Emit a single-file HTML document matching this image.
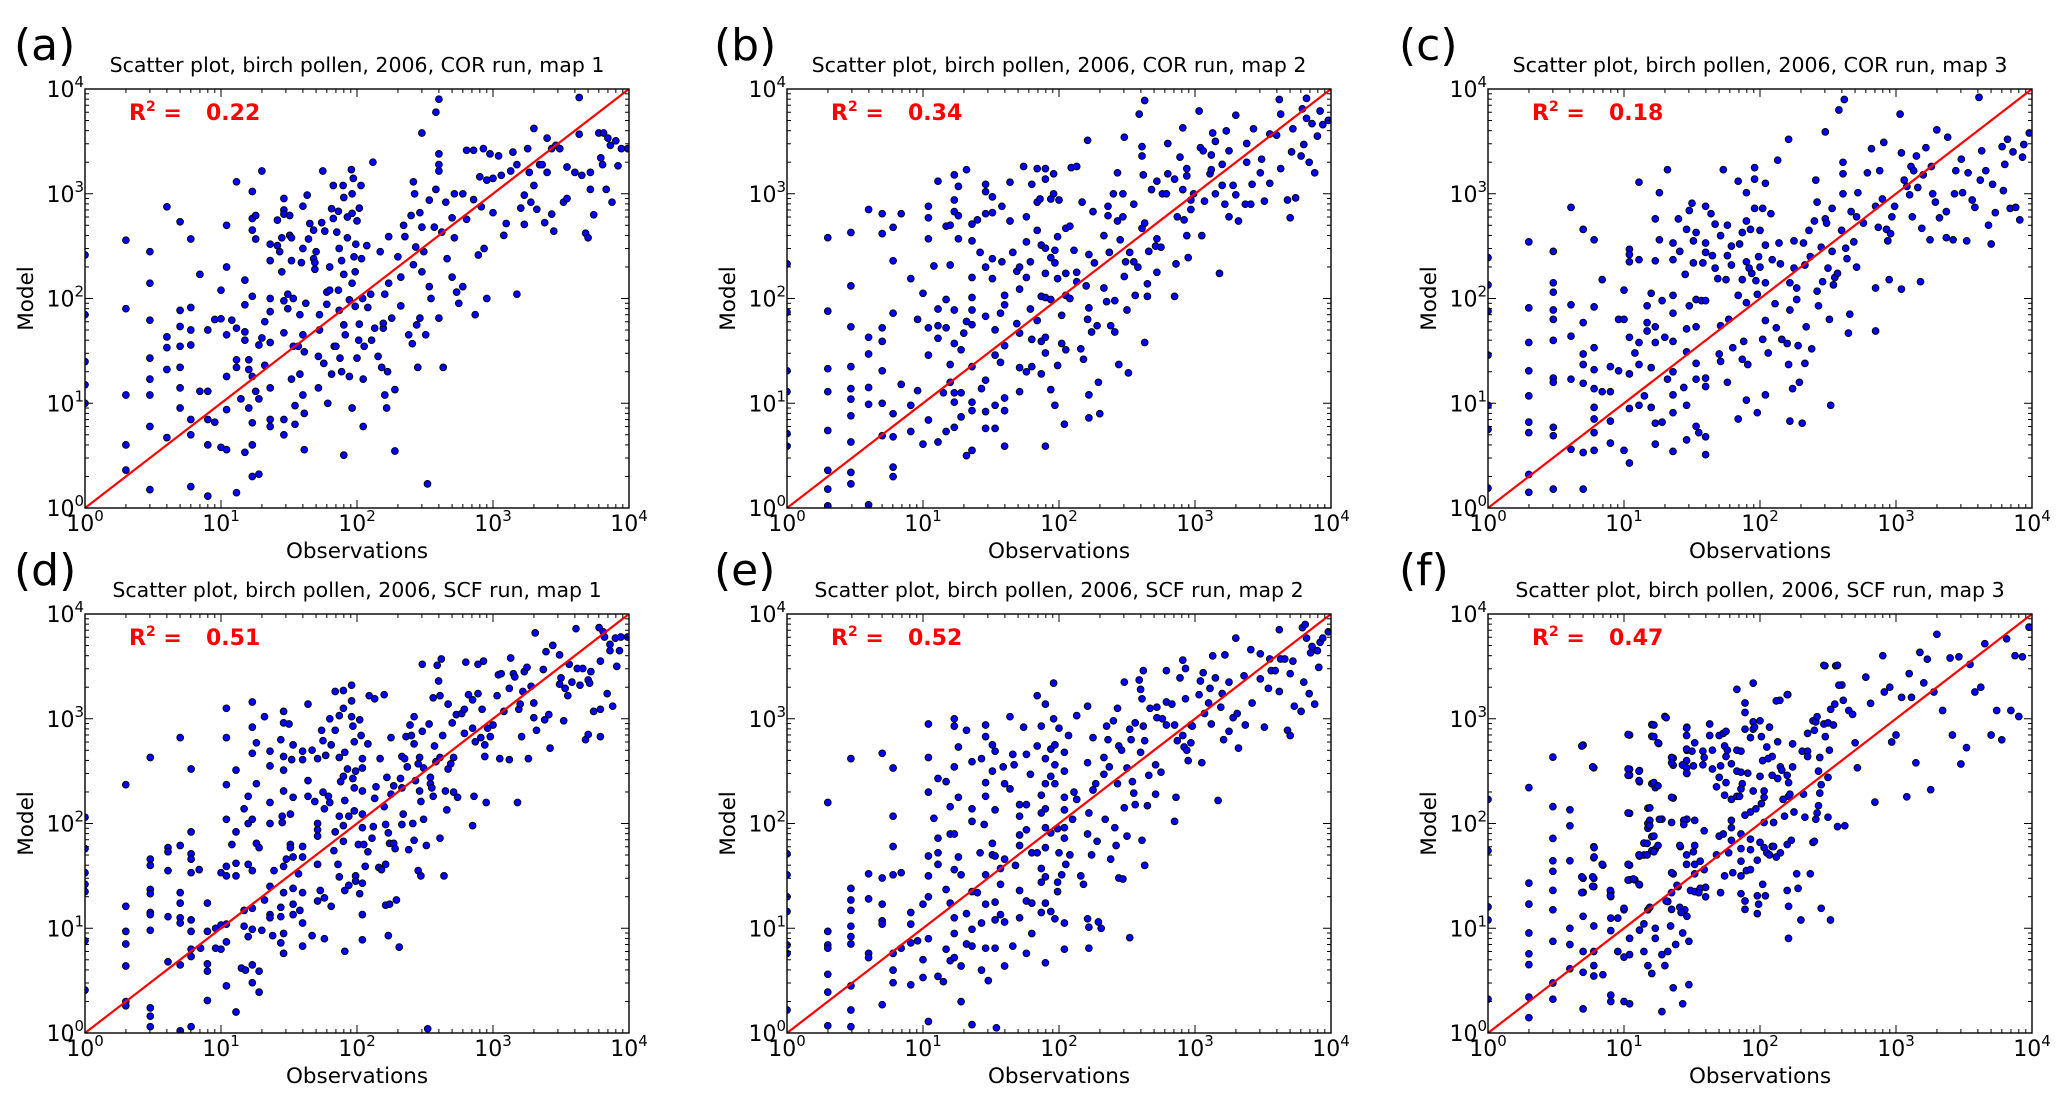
<!DOCTYPE html>
<html><head><meta charset="utf-8"><style>
html,body{margin:0;padding:0;background:#fff;}
svg{display:block;font-family:"DejaVu Sans","Liberation Sans",sans-serif;}
</style></head><body>
<svg id="fig" width="2067" height="1101" viewBox="0 0 2067 1101" xmlns="http://www.w3.org/2000/svg"></svg>
<script>
// Panel (a): [observation, model] in data units
const ptsA = [[2,360],[2,80],[2,12],[2,4],[2,2.3],[3,280],[3,140],[3,62],[3,27],[3,17],[3,12],[3,6],[3,1.5],[4,750],[4,43],[4,34],[4,21],[4,4.7],[5,540],[5,77],[5,54],[5,35],[5,22],[5,14],[5,9],[6,370],[6,82],[6,50],[6,36],[6,7],[6,5],[6,1.6],[7,170],[7,13],[8,50],[8,13],[8,7],[8,4],[8,1.3],[9,63],[9,6.6],[10,64],[10,120],[10,3.8],[11,500],[11,200],[11,45],[11,18],[11,8.7],[11,3.6],[12,62],[13,1300],[13,52],[13,26],[13,22],[13,1.4],[14,11],[15,150],[15,87],[15,40],[15,48],[15,3.4],[16,21],[16,9],[16,26],[17,1050],[17,580],[17,450],[17,105],[17,18],[17,6.5],[17,4],[17,2],[18,620],[18,370],[18,13],[19,36],[19,11],[19,2.1],[20,1650],[20,42],[21,60],[21,23],[23,330],[23,230],[23,100],[23,75],[23,38],[23,14],[23,7],[23,6],[26,560],[26,320],[27,280],[28,380],[28,180],[29,900],[29,700],[29,640],[29,95],[29,47],[29,7],[29,5],[31,110],[31,80],[32,620],[32,400],[33,380],[33,230],[33,17],[34,100],[34,35],[35,9.5],[35,6.3],[37,35],[38,19],[38,70],[39,220],[40,760],[40,300],[40,45],[40,12],[41,31],[41,8],[41,3.6],[42,90],[43,970],[44,370],[45,520],[48,450],[48,240],[49,220],[49,190],[50,280],[52,14],[52,28],[53,70],[53,50],[55,530],[56,1650],[57,24],[58,440],[60,88],[60,115],[61,10],[63,120],[63,200],[65,720],[65,19],[67,1200],[67,580],[68,35],[70,35],[71,430],[73,680],[73,120],[74,300],[74,77],[75,27],[77,230],[77,20],[79,1200],[80,920],[80,170],[80,56],[80,3.2],[82,45],[85,600],[85,380],[88,97],[88,18],[91,1700],[92,1000],[92,650],[92,140],[92,9],[94,1400],[95,250],[97,180],[97,84],[98,330],[100,550],[100,27],[103,40],[104,730],[104,57],[107,1200],[108,240],[110,100],[111,17],[111,6],[113,35],[118,320],[120,82],[126,110],[128,40],[131,2000],[135,52],[143,28],[148,280],[152,22],[156,52],[156,58],[160,110],[160,12],[165,9],[168,20],[171,390],[171,140],[180,65],[190,3.5],[190,13.5],[200,250],[210,85],[210,160],[220,500],[225,390],[240,45],[250,620],[255,37],[260,1300],[260,210],[265,1000],[270,310],[275,56],[280,22],[290,660],[290,65],[300,3800],[300,480],[300,180],[310,280],[320,45],[330,1.7],[340,870],[340,130],[350,100],[370,480],[380,6000],[380,1100],[400,8000],[400,2400],[400,1900],[400,1650],[400,65],[420,430],[430,22],[450,830],[460,240],[500,590],[500,160],[520,1000],[520,380],[540,115],[560,90],[600,1000],[600,130],[640,2600],[640,570],[720,2600],[720,880],[740,70],[780,260],[800,1450],[820,750],[850,2700],[860,300],[900,1350],[900,100],[950,2400],[1000,1400],[1000,660],[1100,2300],[1150,1500],[1200,400],[1250,520],[1350,1650],[1400,2500],[1500,1900],[1500,110],[1600,730],[1700,970],[1700,510],[1800,2700],[1850,1600],[1900,830],[2000,1200],[2000,4200],[2100,710],[2200,1900],[2300,1900],[2400,530],[2500,1600],[2500,3400],[2700,640],[2700,2700],[2800,440],[2900,2900],[3100,2700],[3300,830],[3500,1800],[3500,900],[4000,1600],[4300,8300],[4300,3700],[4500,1500],[4800,420],[5000,380],[5200,1600],[5200,1100],[5500,630],[6000,3800],[6200,2200],[6400,1900],[6500,3800],[6800,1100],[7000,3400],[7300,2900],[7500,830],[8000,3200],[8300,1850],[8800,2700],[9800,2700],[1,260],[1,70],[1,25],[1,15],[1,10]];
// Panel (b): [log10 obs, log10 model]
const ptsB = [[.3,2.58],[.3,1.88],[.3,1.33],[.3,1.11],[.3,.74],[.3,.36],[.3,.18],[.3,.02],[.47,2.63],[.47,2.12],[.47,1.73],[.47,1.35],[.47,1.14],[.47,1.04],[.47,.88],[.47,.63],[.47,.34],[.47,.23],[.6,2.85],[.6,1.63],[.6,1.47],[.6,1.15],[.6,.99],[.6,.03],[.7,2.81],[.7,2.62],[.7,1.72],[.7,1.59],[.7,1.31],[.7,1.0],[.7,.69],[.78,2.68],[.78,2.36],[.78,1.86],[.78,.9],[.78,.68],[.78,.39],[.78,.3],[.84,2.81],[.84,1.18],[.91,2.19],[.91,.98],[.91,.73],[.96,1.8],[.96,1.12],[1.0,2.05],[1.0,.61],[1.04,2.88],[1.04,2.77],[1.04,2.57],[1.04,1.72],[1.04,1.46],[1.04,.84],[1.08,2.31],[1.11,3.12],[1.11,1.9],[1.11,1.74],[1.11,1.62],[1.11,.63],[1.15,1.1],[1.17,2.69],[1.17,1.99],[1.17,1.72],[1.17,.73],[1.2,2.7],[1.2,2.32],[1.2,1.37],[1.2,1.2],[1.23,3.18],[1.23,2.94],[1.23,2.83],[1.23,1.89],[1.23,1.57],[1.23,1.1],[1.23,1.01],[1.23,.77],[1.26,3.07],[1.26,2.79],[1.26,2.57],[1.28,1.51],[1.28,1.1],[1.28,.87],[1.3,1.67],[1.32,1.78],[1.32,.5],[1.32,3.23],[1.36,2.71],[1.36,2.55],[1.36,2.2],[1.36,2.01],[1.36,1.89],[1.36,1.75],[1.36,1.35],[1.36,1.01],[1.36,.93],[1.36,.55],[1.4,2.75],[1.42,2.44],[1.43,1.14],[1.46,3.09],[1.46,3.02],[1.46,2.81],[1.46,2.3],[1.46,1.83],[1.46,1.22],[1.46,.92],[1.46,.76],[1.51,2.97],[1.51,2.82],[1.51,2.38],[1.51,2.19],[1.53,1.7],[1.53,1.46],[1.53,.98],[1.53,.76],[1.58,2.88],[1.58,2.35],[1.57,1.86],[1.57,1.39],[1.6,2.03],[1.6,1.94],[1.6,1.55],[1.6,1.05],[1.6,.93],[1.6,.59],[1.64,3.11],[1.64,2.74],[1.66,2.44],[1.69,2.26],[1.69,1.76],[1.71,2.3],[1.71,2.09],[1.71,1.67],[1.71,1.34],[1.71,1.11],[1.74,3.26],[1.76,2.78],[1.76,2.54],[1.76,2.2],[1.76,1.3],[1.79,2.35],[1.79,1.9],[1.8,3.09],[1.8,1.61],[1.8,1.35],[1.84,3.24],[1.84,2.92],[1.84,2.65],[1.84,1.79],[1.86,2.95],[1.87,2.51],[1.87,2.02],[1.87,1.59],[1.87,1.28],[1.9,3.24],[1.9,3.14],[1.9,2.48],[1.9,2.24],[1.9,2.01],[1.9,1.63],[1.9,1.48],[1.9,.59],[1.94,2.95],[1.94,2.39],[1.94,1.99],[1.94,1.13],[1.96,3.19],[1.96,3.0],[1.97,2.46],[1.97,2.34],[1.97,.98],[1.99,2.59],[1.99,2.19],[1.99,1.36],[2.0,2.94],[2.02,1.84],[2.02,1.57],[2.05,2.67],[2.05,2.24],[2.05,2.03],[2.04,.8],[2.05,1.51],[2.08,2.0],[2.08,2.69],[2.09,3.25],[2.13,3.26],[2.11,2.46],[2.13,2.25],[2.13,2.16],[2.16,1.52],[2.17,2.92],[2.18,1.42],[2.21,3.51],[2.2,2.12],[2.21,1.8],[2.22,2.42],[2.22,1.91],[2.22,1.08],[2.22,.86],[2.24,1.68],[2.25,2.83],[2.26,2.34],[2.28,1.74],[2.29,1.2],[2.3,.9],[2.33,2.6],[2.33,2.1],[2.35,1.97],[2.36,2.88],[2.36,2.79],[2.37,2.44],[2.38,1.74],[2.4,3.0],[2.41,1.68],[2.41,1.98],[2.43,3.2],[2.43,2.74],[2.44,1.37],[2.45,2.56],[2.47,3.0],[2.47,2.78],[2.48,3.54],[2.48,2.21],[2.49,2.35],[2.5,1.89],[2.51,1.29],[2.52,2.44],[2.55,2.9],[2.55,2.35],[2.56,2.03],[2.58,2.3],[2.59,3.76],[2.61,2.67],[2.61,3.45],[2.61,3.36],[2.62,3.18],[2.63,3.89],[2.63,2.72],[2.63,1.58],[2.65,2.14],[2.65,2.02],[2.66,2.45],[2.68,3.04],[2.71,2.5],[2.72,3.12],[2.72,2.57],[2.72,2.25],[2.75,2.49],[2.76,3.0],[2.79,3.0],[2.8,3.48],[2.8,3.19],[2.85,3.14],[2.85,2.02],[2.86,2.33],[2.87,2.78],[2.89,3.35],[2.91,3.63],[2.91,3.04],[2.92,2.75],[2.94,3.24],[2.94,3.17],[2.94,2.6],[2.95,2.39],[2.97,2.85],[2.97,2.94],[2.99,3.0],[3.03,3.79],[3.04,3.44],[3.05,2.6],[3.06,3.41],[3.07,2.93],[3.11,3.19],[3.12,3.37],[3.12,3.23],[3.13,3.58],[3.15,3.5],[3.15,3.0],[3.18,2.24],[3.2,3.08],[3.2,3.28],[3.22,2.9],[3.23,3.6],[3.25,2.78],[3.25,3.41],[3.28,3.08],[3.3,3.75],[3.3,2.99],[3.32,2.74],[3.37,2.9],[3.38,3.48],[3.38,3.3],[3.41,2.9],[3.42,3.09],[3.43,3.62],[3.48,3.2],[3.49,3.33],[3.51,2.93],[3.55,3.1],[3.55,3.57],[3.6,3.56],[3.62,3.9],[3.63,3.24],[3.63,3.76],[3.68,2.94],[3.7,2.77],[3.71,3.4],[3.72,3.62],[3.74,2.96],[3.78,3.36],[3.79,3.81],[3.8,3.47],[3.82,3.91],[3.82,3.72],[3.84,3.3],[3.86,3.67],[3.88,3.2],[3.9,3.55],[3.92,3.79],[3.94,3.66],[3.98,3.7],[0,2.33],[0,1.87],[0,1.31],[0,1.11],[0,.71],[0,.59]];
// Panel (c): [log10 obs, log10 model]
const ptsC = [[.3,2.54],[.3,1.91],[.3,1.58],[.3,1.31],[.3,1.07],[.3,.82],[.3,.72],[.3,.32],[.3,.15],[.48,2.45],[.48,2.15],[.48,2.06],[.48,1.89],[.48,1.8],[.48,1.6],[.48,1.24],[.48,1.2],[.48,.77],[.48,.69],[.48,.18],[.61,2.87],[.61,1.94],[.61,1.64],[.61,1.23],[.61,.56],[.7,2.66],[.7,1.77],[.7,1.47],[.7,1.37],[.7,1.19],[.7,.53],[.7,.18],[.78,2.56],[.78,1.92],[.78,1.53],[.78,1.32],[.78,1.14],[.78,.96],[.78,.85],[.78,.72],[.78,.55],[.84,2.18],[.84,1.11],[.9,1.35],[.9,1.11],[.9,.83],[.9,.62],[.96,1.31],[.96,1.8],[1.0,2.08],[1.0,1.8],[1.0,.55],[1.04,2.47],[1.04,2.42],[1.04,2.35],[1.04,1.63],[1.04,1.28],[1.04,.95],[1.04,.43],[1.08,1.48],[1.11,3.11],[1.11,2.37],[1.11,1.58],[1.11,1.37],[1.11,.98],[1.15,1.07],[1.17,1.93],[1.17,1.77],[1.17,1.69],[1.2,2.05],[1.2,1.34],[1.2,.96],[1.23,2.76],[1.23,2.36],[1.23,1.73],[1.23,1.58],[1.23,.81],[1.23,.61],[1.26,3.01],[1.26,2.56],[1.28,1.98],[1.28,.82],[1.3,1.63],[1.32,3.23],[1.32,1.23],[1.36,2.53],[1.36,2.37],[1.36,2.03],[1.36,1.86],[1.36,1.59],[1.36,1.3],[1.36,1.08],[1.36,.91],[1.36,.54],[1.4,2.76],[1.41,2.45],[1.44,1.15],[1.45,2.23],[1.46,2.66],[1.46,1.71],[1.46,1.49],[1.46,.98],[1.46,.65],[1.48,2.84],[1.48,1.93],[1.5,2.91],[1.51,2.55],[1.51,2.34],[1.53,2.63],[1.53,1.99],[1.53,1.73],[1.53,1.38],[1.53,1.23],[1.53,.78],[1.55,.72],[1.57,1.98],[1.58,2.34],[1.6,2.88],[1.6,2.53],[1.6,2.44],[1.6,1.98],[1.6,1.24],[1.6,1.16],[1.6,.68],[1.6,.51],[1.64,2.81],[1.65,2.41],[1.67,2.71],[1.67,2.29],[1.69,2.19],[1.7,1.47],[1.71,2.6],[1.71,1.74],[1.71,1.4],[1.73,3.23],[1.75,2.18],[1.76,2.7],[1.76,2.41],[1.76,1.2],[1.77,1.8],[1.79,2.5],[1.79,2.32],[1.8,1.53],[1.84,3.12],[1.84,2.03],[1.84,.85],[1.85,2.52],[1.87,2.63],[1.87,2.18],[1.87,1.42],[1.88,1.59],[1.9,3.01],[1.9,2.74],[1.9,2.35],[1.9,1.96],[1.9,1.03],[1.91,1.37],[1.92,2.29],[1.93,2.66],[1.94,2.24],[1.96,3.14],[1.96,3.25],[1.96,2.86],[1.97,2.17],[1.98,2.04],[1.98,.91],[1.99,2.4],[2.0,2.65],[2.0,2.3],[2.02,2.86],[2.02,1.61],[2.04,3.1],[2.04,2.51],[2.04,2.15],[2.04,1.79],[2.04,1.08],[2.06,1.48],[2.08,2.81],[2.09,2.37],[2.11,1.95],[2.12,1.72],[2.13,3.32],[2.14,2.53],[2.15,2.33],[2.16,1.61],[2.2,1.57],[2.21,3.52],[2.21,1.37],[2.22,2.15],[2.22,1.89],[2.22,.83],[2.24,1.14],[2.25,2.55],[2.25,2.29],[2.27,2.1],[2.27,1.99],[2.28,1.55],[2.29,1.2],[2.31,.81],[2.32,2.53],[2.33,2.32],[2.33,1.38],[2.34,1.73],[2.36,2.65],[2.37,2.4],[2.38,1.52],[2.4,2.74],[2.41,3.13],[2.42,2.92],[2.42,2.07],[2.43,1.93],[2.45,2.49],[2.46,2.16],[2.48,2.76],[2.48,3.59],[2.49,2.72],[2.5,2.29],[2.51,1.8],[2.52,.98],[2.53,2.86],[2.53,2.45],[2.54,2.13],[2.55,2.2],[2.57,2.24],[2.58,3.8],[2.6,2.65],[2.61,3.19],[2.61,3.3],[2.61,3.0],[2.62,3.9],[2.63,2.48],[2.64,2.38],[2.65,1.67],[2.66,1.85],[2.67,2.83],[2.69,2.54],[2.71,2.3],[2.71,2.78],[2.72,3.01],[2.76,2.72],[2.79,3.2],[2.82,3.43],[2.85,2.88],[2.85,2.1],[2.85,1.69],[2.87,2.68],[2.88,3.22],[2.9,2.95],[2.91,3.49],[2.93,2.66],[2.94,2.55],[2.95,2.18],[2.96,2.62],[2.97,2.78],[2.99,2.88],[3.03,3.76],[3.04,3.39],[3.04,2.09],[3.06,3.13],[3.08,3.07],[3.1,2.99],[3.11,3.26],[3.12,2.78],[3.13,3.22],[3.15,3.36],[3.16,3.06],[3.18,2.16],[3.19,2.67],[3.2,3.18],[3.22,3.44],[3.25,2.56],[3.26,3.26],[3.27,3.0],[3.29,2.92],[3.3,3.61],[3.32,2.77],[3.37,2.58],[3.37,2.83],[3.38,3.54],[3.42,2.56],[3.43,3.0],[3.44,3.22],[3.48,3.33],[3.49,3.01],[3.52,2.55],[3.53,3.2],[3.56,2.94],[3.58,2.87],[3.61,3.92],[3.62,3.13],[3.63,3.41],[3.66,3.22],[3.68,2.7],[3.7,2.52],[3.71,3.09],[3.73,2.82],[3.78,3.45],[3.79,3.03],[3.8,3.28],[3.82,3.52],[3.84,2.86],[3.86,3.4],[3.88,2.87],[3.91,2.75],[3.93,3.35],[3.94,3.47],[3.98,3.58],[0,2.39],[0,2.13],[0,1.88],[0,1.46],[0,.98],[0,.75],[0,.19]];
// Panel (d): [log10 obs, log10 model]
const ptsD = [[.3,2.37],[.3,1.21],[.3,.97],[.3,.85],[.3,.64],[.3,.3],[.3,.26],[.48,2.63],[.48,1.66],[.48,1.6],[.48,1.37],[.48,1.33],[.48,1.15],[.48,1.13],[.48,.98],[.48,.24],[.48,.16],[.48,.06],[.61,1.77],[.61,1.73],[.61,1.55],[.61,1.11],[.61,.68],[.7,2.82],[.7,1.79],[.7,1.34],[.7,1.24],[.7,1.1],[.7,1.05],[.7,.65],[.7,.02],[.78,2.52],[.78,1.92],[.78,1.71],[.78,1.66],[.78,1.53],[.78,1.08],[.78,.97],[.78,.8],[.78,.73],[.78,.06],[.84,1.56],[.85,.81],[.9,1.24],[.9,.97],[.9,.66],[.9,.59],[.9,.31],[.96,1.0],[.96,.81],[1.0,1.53],[1.0,1.03],[1.0,.8],[1.04,3.1],[1.04,2.82],[1.04,2.37],[1.04,2.04],[1.04,1.59],[1.04,1.5],[1.04,1.04],[1.04,.87],[1.04,.45],[1.08,1.8],[1.11,2.51],[1.11,1.92],[1.11,1.62],[1.11,1.5],[1.11,.2],[1.15,.62],[1.17,2.14],[1.17,1.02],[1.17,1.17],[1.18,.6],[1.2,2.26],[1.2,2.0],[1.2,1.61],[1.2,.92],[1.23,3.16],[1.23,2.92],[1.23,2.67],[1.23,2.04],[1.23,1.55],[1.23,1.19],[1.23,.99],[1.23,.65],[1.23,.48],[1.26,2.77],[1.26,2.38],[1.26,1.81],[1.28,1.77],[1.28,.59],[1.28,.39],[1.3,.98],[1.32,3.02],[1.32,1.27],[1.36,2.69],[1.36,2.55],[1.36,2.2],[1.36,2.0],[1.36,1.4],[1.36,1.13],[1.36,1.1],[1.38,.93],[1.39,1.55],[1.44,2.8],[1.44,1.2],[1.44,1.11],[1.44,.86],[1.45,2.07],[1.45,2.01],[1.46,3.07],[1.46,2.96],[1.46,2.64],[1.46,2.51],[1.46,2.31],[1.46,1.59],[1.46,1.34],[1.46,.95],[1.46,.76],[1.48,1.66],[1.5,2.95],[1.51,2.09],[1.51,1.8],[1.51,1.77],[1.52,2.61],[1.53,2.75],[1.53,2.25],[1.53,1.68],[1.53,1.38],[1.53,1.23],[1.53,1.13],[1.57,1.52],[1.58,1.17],[1.6,2.69],[1.6,2.61],[1.6,1.78],[1.6,1.68],[1.6,1.34],[1.6,1.05],[1.6,.83],[1.64,3.14],[1.64,2.41],[1.64,2.26],[1.67,2.7],[1.67,.93],[1.69,2.21],[1.71,2.62],[1.71,2.0],[1.71,1.94],[1.71,1.88],[1.71,1.61],[1.71,1.26],[1.73,1.36],[1.74,2.89],[1.75,2.79],[1.75,2.3],[1.76,2.14],[1.76,1.29],[1.76,.9],[1.77,2.65],[1.79,2.26],[1.8,2.2],[1.8,3.0],[1.81,2.75],[1.81,1.21],[1.83,1.74],[1.84,3.26],[1.84,2.89],[1.84,1.92],[1.86,1.61],[1.87,2.63],[1.87,3.03],[1.87,2.07],[1.87,1.49],[1.88,2.4],[1.9,3.27],[1.9,3.1],[1.9,2.45],[1.9,1.98],[1.9,1.83],[1.91,.78],[1.91,2.68],[1.91,2.22],[1.91,1.36],[1.93,2.52],[1.94,2.07],[1.94,1.41],[1.96,3.32],[1.96,3.17],[1.96,3.02],[1.97,2.93],[1.97,2.43],[1.98,2.34],[1.98,2.78],[1.98,2.12],[1.99,2.5],[1.99,1.5],[1.99,1.45],[2.01,1.8],[2.02,2.99],[2.02,1.33],[2.03,2.84],[2.04,2.62],[2.04,2.53],[2.04,2.31],[2.04,2.09],[2.04,1.96],[2.04,1.43],[2.04,1.13],[2.04,.89],[2.05,1.8],[2.06,1.59],[2.08,1.73],[2.08,2.76],[2.09,3.22],[2.11,1.86],[2.12,1.97],[2.13,3.19],[2.13,2.24],[2.14,2.35],[2.16,1.58],[2.17,2.62],[2.18,1.56],[2.2,3.23],[2.2,2.16],[2.21,1.61],[2.21,1.22],[2.21,1.99],[2.22,2.44],[2.23,1.91],[2.23,.93],[2.24,1.23],[2.24,1.81],[2.25,2.82],[2.25,2.28],[2.27,2.36],[2.27,1.81],[2.28,1.76],[2.29,1.27],[2.31,.82],[2.32,2.43],[2.33,2.34],[2.33,2.64],[2.34,2.09],[2.33,1.99],[2.35,2.62],[2.36,2.83],[2.37,2.54],[2.38,1.75],[2.39,2.94],[2.4,2.84],[2.41,2.0],[2.42,1.84],[2.42,3.02],[2.42,2.76],[2.43,2.41],[2.45,2.57],[2.45,1.55],[2.46,2.63],[2.46,2.31],[2.47,2.21],[2.47,1.5],[2.48,2.88],[2.48,3.52],[2.49,2.04],[2.49,2.53],[2.51,1.79],[2.52,.04],[2.53,2.95],[2.54,2.38],[2.54,2.44],[2.55,2.34],[2.56,3.2],[2.56,2.26],[2.57,2.74],[2.58,2.59],[2.59,3.51],[2.6,3.36],[2.61,3.22],[2.61,2.63],[2.61,1.86],[2.62,3.57],[2.63,2.84],[2.64,1.5],[2.65,2.31],[2.66,2.13],[2.67,3.14],[2.67,2.52],[2.69,2.57],[2.7,2.96],[2.71,2.3],[2.71,2.63],[2.73,3.04],[2.74,2.25],[2.77,3.05],[2.79,2.86],[2.79,3.09],[2.8,3.54],[2.82,3.23],[2.85,3.18],[2.85,2.91],[2.85,1.98],[2.86,2.26],[2.87,2.78],[2.89,3.24],[2.89,3.52],[2.91,2.82],[2.92,3.09],[2.93,3.55],[2.94,2.75],[2.94,2.64],[2.95,2.2],[2.96,2.91],[2.98,2.83],[3.0,2.94],[3.03,3.22],[3.04,3.42],[3.05,2.62],[3.06,3.43],[3.08,3.07],[3.12,3.29],[3.12,2.61],[3.13,3.58],[3.15,3.43],[3.16,3.4],[3.18,2.2],[3.19,3.09],[3.2,3.14],[3.21,2.83],[3.22,3.26],[3.23,3.45],[3.25,3.49],[3.26,2.62],[3.28,3.31],[3.3,3.01],[3.3,3.15],[3.31,3.82],[3.32,2.89],[3.37,3.47],[3.38,2.99],[3.39,3.64],[3.41,3.04],[3.42,2.72],[3.44,3.7],[3.49,3.61],[3.49,3.33],[3.5,3.39],[3.52,2.98],[3.53,3.29],[3.55,3.22],[3.56,3.52],[3.58,3.35],[3.61,3.86],[3.62,3.48],[3.64,3.32],[3.66,3.48],[3.68,2.8],[3.7,2.85],[3.7,3.37],[3.71,3.34],[3.72,3.45],[3.74,3.07],[3.78,3.87],[3.79,2.83],[3.79,3.09],[3.79,3.55],[3.81,3.83],[3.82,3.78],[3.84,3.24],[3.86,3.71],[3.86,3.65],[3.88,3.12],[3.9,3.77],[3.91,3.5],[3.93,3.65],[3.94,3.78],[3.99,3.78],[0,2.06],[0,1.76],[0,1.53],[0,1.42],[0,1.35],[0,.88],[0,.41]];
// Panel (e): [log10 obs, log10 model]
const ptsE = [[.3,2.2],[.3,.97],[.3,.84],[.3,.81],[.3,.56],[.3,.39],[.3,.07],[.47,2.62],[.47,1.38],[.47,1.27],[.47,1.17],[.47,1.02],[.47,.92],[.47,.85],[.47,.45],[.47,.22],[.47,.06],[.6,1.52],[.6,1.28],[.6,.76],[.6,.72],[.7,2.67],[.7,1.48],[.7,1.23],[.7,1.07],[.7,1.04],[.7,.27],[.78,2.53],[.78,2.07],[.78,1.78],[.78,1.51],[.78,.76],[.78,.6],[.78,.48],[.84,1.53],[.84,.81],[.91,1.15],[.91,1.04],[.91,.86],[.91,.46],[.96,.88],[1.0,1.23],[1.0,.7],[1.0,.53],[1.04,2.95],[1.04,2.63],[1.04,2.3],[1.04,1.69],[1.04,1.5],[1.04,1.3],[1.04,.9],[1.04,.11],[1.08,2.05],[1.11,2.43],[1.11,1.86],[1.11,1.72],[1.11,1.61],[1.11,.54],[1.15,.49],[1.17,2.4],[1.17,1.37],[1.17,.8],[1.2,2.16],[1.2,1.9],[1.2,1.24],[1.2,.69],[1.23,3.0],[1.23,2.93],[1.23,2.54],[1.23,1.9],[1.23,1.56],[1.23,1.1],[1.23,.95],[1.23,.72],[1.26,2.73],[1.26,2.25],[1.26,1.68],[1.28,1.51],[1.28,.64],[1.28,.3],[1.32,2.89],[1.32,1.14],[1.32,.85],[1.36,2.59],[1.36,2.14],[1.36,2.02],[1.36,1.35],[1.36,.99],[1.36,.83],[1.36,.08],[1.4,1.34],[1.42,1.72],[1.43,2.62],[1.43,1.05],[1.43,.6],[1.45,1.99],[1.46,2.94],[1.46,2.83],[1.46,2.39],[1.46,2.26],[1.46,1.51],[1.46,1.23],[1.46,.81],[1.48,.5],[1.51,2.75],[1.51,2.5],[1.51,1.81],[1.51,1.7],[1.53,2.69],[1.53,2.13],[1.53,1.69],[1.53,1.25],[1.53,1.08],[1.53,.81],[1.54,.05],[1.57,1.57],[1.57,1.42],[1.57,1.13],[1.59,2.54],[1.6,2.38],[1.6,1.66],[1.6,1.06],[1.6,.64],[1.64,3.02],[1.64,2.33],[1.66,2.66],[1.66,.83],[1.67,2.56],[1.68,1.6],[1.71,2.18],[1.71,2.07],[1.71,1.89],[1.71,1.79],[1.71,1.36],[1.71,1.1],[1.74,2.92],[1.76,2.66],[1.76,2.18],[1.76,1.94],[1.76,1.26],[1.76,.76],[1.79,2.47],[1.8,1.72],[1.8,1.24],[1.8,.95],[1.84,3.22],[1.84,2.74],[1.84,1.72],[1.87,2.93],[1.87,2.27],[1.87,2.1],[1.87,1.57],[1.87,1.44],[1.87,1.15],[1.9,3.14],[1.9,2.62],[1.9,2.38],[1.9,2.14],[1.9,1.96],[1.9,1.77],[1.9,1.49],[1.9,1.24],[1.9,.67],[1.94,2.71],[1.94,2.45],[1.94,1.91],[1.94,1.16],[1.96,3.34],[1.96,3.0],[1.97,2.75],[1.97,2.56],[1.97,2.38],[1.97,1.09],[1.99,1.95],[1.99,1.44],[1.99,1.35],[2.0,2.91],[2.0,1.72],[2.02,1.51],[2.04,2.68],[2.04,2.5],[2.04,2.25],[2.04,2.13],[2.04,1.96],[2.04,1.86],[2.04,1.05],[2.04,.8],[2.05,1.61],[2.07,2.84],[2.08,1.7],[2.11,2.3],[2.1,2.04],[2.13,3.03],[2.13,2.23],[2.16,1.5],[2.18,1.42],[2.21,3.12],[2.21,1.09],[2.21,1.9],[2.21,2.58],[2.22,2.1],[2.22,1.01],[2.22,.81],[2.24,1.7],[2.25,2.82],[2.25,2.32],[2.27,2.38],[2.28,1.83],[2.29,1.06],[2.31,1.0],[2.33,2.47],[2.33,2.63],[2.34,2.04],[2.35,2.93],[2.36,2.8],[2.37,2.54],[2.38,1.66],[2.4,2.98],[2.41,1.96],[2.42,1.79],[2.43,2.38],[2.43,3.1],[2.44,2.74],[2.44,1.48],[2.46,2.7],[2.47,1.47],[2.48,2.15],[2.48,3.35],[2.5,2.53],[2.5,1.88],[2.52,.91],[2.52,2.9],[2.53,2.8],[2.54,2.4],[2.55,2.29],[2.56,2.96],[2.56,2.18],[2.59,3.37],[2.6,3.28],[2.6,2.68],[2.61,3.19],[2.61,1.84],[2.62,3.46],[2.62,2.93],[2.63,2.79],[2.63,1.6],[2.65,2.17],[2.66,2.46],[2.67,3.1],[2.71,2.56],[2.71,2.28],[2.72,3.11],[2.72,3.01],[2.75,2.49],[2.76,3.0],[2.79,2.94],[2.79,3.46],[2.79,3.16],[2.83,3.14],[2.85,2.94],[2.85,2.02],[2.86,2.25],[2.87,2.79],[2.89,3.39],[2.91,3.56],[2.91,2.84],[2.92,2.73],[2.93,3.48],[2.93,3.19],[2.94,2.7],[2.95,2.6],[2.97,2.94],[2.97,2.77],[2.98,2.93],[3.03,3.23],[3.04,3.36],[3.05,2.58],[3.06,3.44],[3.07,3.05],[3.1,3.15],[3.11,3.29],[3.12,2.95],[3.13,3.6],[3.15,3.39],[3.17,2.22],[3.19,3.11],[3.2,3.24],[3.21,2.8],[3.22,3.61],[3.25,2.88],[3.25,3.35],[3.28,3.01],[3.3,3.77],[3.31,3.05],[3.32,2.72],[3.36,3.41],[3.37,2.94],[3.41,3.66],[3.42,3.15],[3.48,3.62],[3.48,3.38],[3.51,2.92],[3.54,3.29],[3.55,3.57],[3.56,3.46],[3.59,3.46],[3.62,3.85],[3.62,3.26],[3.63,3.57],[3.66,3.57],[3.68,2.89],[3.7,2.84],[3.7,3.43],[3.72,3.55],[3.73,3.12],[3.78,3.07],[3.79,3.87],[3.8,3.35],[3.81,3.9],[3.82,3.77],[3.84,3.24],[3.85,3.63],[3.86,3.69],[3.88,3.14],[3.9,3.65],[3.91,3.49],[3.92,3.73],[3.94,3.77],[3.98,3.83],[0,1.71],[0,1.51],[0,1.3],[0,1.16],[0,.84],[0,.76],[0,.22]];
// Panel (f): [observation, model] in data units
const ptsF = [[2,220],[2,27],[2,17],[2,9],[2,5.7],[2,4.5],[2,2.2],[2,1.4],[3,430],[3,145],[3,72],[3,44],[3,35],[3,23],[3,15],[3,7.5],[3,3],[3,2.1],[4,135],[4,95],[4,44],[4,10],[4,7],[4,4.1],[5,560],[5,30],[5,22],[5,13],[5,6],[5,3.8],[5,1.7],[6,340],[6,60],[6,47],[6,30],[6,25],[6,10.5],[6,6],[6,4.4],[6,3.5],[7,40],[7,3.6],[8,22],[8,20],[8,12.5],[8,9.5],[8,2.3],[8,2],[9,12.5],[9,6],[10,15],[10,5.3],[10,2],[11,700],[11,330],[11,290],[11,125],[11,40],[11,29],[11,8],[11,5.6],[11,1.9],[12,29],[13,320],[13,250],[13,49],[13,26],[13,9.6],[14,65],[14,50],[14,11],[14,6],[15,140],[15,100],[15,90],[15,15],[15,4.4],[16,880],[16,680],[16,240],[16,75],[16,55],[16,3.7],[17,220],[17,57],[17,10],[17,8],[18,580],[19,110],[19,5.6],[19,1.6],[20,4.4],[20,1050],[21,18],[21,6],[22,10.5],[23,420],[23,360],[23,175],[23,33],[23,2.7],[24,7],[25,25],[26,60],[27,360],[27,9],[27,1.9],[28,15],[29,830],[29,500],[29,300],[29,110],[29,13],[30,7.5],[30,2.9],[140,1500],[160,1700],[162,8],[200,12],[300,3200],[330,12],[360,3200],[400,2100],[410,1500],[420,95],[450,1200],[480,1100],[500,590],[520,340],[600,2500],[650,1400],[700,160],[800,4000],[820,1800],[900,2000],[930,600],[1000,700],[1100,1600],[1200,180],[1250,2700],[1300,1600],[1400,380],[1500,4300],[1600,2200],[1700,3700],[1800,210],[1900,1800],[2000,6400],[2200,1200],[2500,3800],[2600,700],[2900,3900],[3000,370],[3300,530],[3500,3300],[3800,1800],[4200,2000],[4500,5200],[5000,700],[5500,1200],[6000,630],[6500,5800],[7000,1200],[7500,4000],[8000,1050],[8500,3900],[9500,7500],[1,170],[1,55],[1,16],[1,12],[1,2.1]];
// Panel (f), central cloud: [log10 obs, log10 model]
const ptsFcore = [[.69,2.74],[.77,2.54],[1.03,2.85],[1.03,2.52],[1.03,2.46],[1.11,2.5],[1.11,2.41],[1.03,2.1],[1.22,2.94],[1.22,2.83],[1.25,2.77],[1.31,3.01],[1.22,2.39],[1.25,2.36],[1.35,2.63],[1.35,2.58],[1.35,2.25],[1.46,2.91],[1.46,2.84],[1.46,2.71],[1.5,2.69],[1.46,2.6],[1.43,2.56],[1.46,2.53],[1.46,2.48],[1.51,2.55],[1.52,2.77],[1.63,2.95],[1.63,2.84],[1.58,2.69],[1.59,2.63],[1.58,2.56],[1.65,2.7],[1.65,2.52],[1.7,2.84],[1.73,2.86],[1.75,2.88],[1.74,2.74],[1.76,2.7],[1.75,2.64],[1.71,2.55],[1.7,2.44],[1.75,2.39],[1.68,2.35],[1.74,2.27],[1.79,2.57],[1.83,2.7],[1.86,2.69],[1.83,2.5],[1.86,2.49],[1.87,2.38],[1.86,2.33],[1.79,2.23],[1.83,2.26],[1.85,2.26],[1.83,3.28],[1.95,3.34],[1.89,3.15],[1.89,3.06],[1.95,2.97],[2.0,2.98],[1.95,2.9],[1.96,2.92],[1.93,2.82],[2.01,2.83],[2.07,2.92],[1.89,2.9],[1.91,2.48],[1.95,2.31],[2.0,2.45],[2.02,2.6],[2.05,2.73],[2.03,2.31],[2.03,2.25],[1.97,2.14],[2.01,2.19],[1.89,2.08],[1.93,2.11],[2.12,3.17],[2.2,3.23],[2.13,2.78],[2.09,2.64],[2.06,2.62],[2.09,2.46],[2.13,2.43],[2.15,2.54],[2.16,2.51],[2.2,2.46],[2.21,2.39],[2.24,2.54],[2.24,2.76],[2.17,2.23],[2.21,2.26],[2.22,2.28],[2.25,2.11],[2.18,2.07],[2.1,2.01],[2.03,2.01],[2.31,2.69],[2.35,2.69],[2.35,2.86],[2.35,2.64],[2.39,2.98],[2.41,2.97],[2.42,3.02],[2.4,2.89],[2.44,2.63],[2.51,2.7],[2.47,2.95],[2.5,2.96],[2.54,2.94],[2.48,2.83],[2.43,2.5],[2.5,2.44],[2.45,2.37],[2.44,2.29],[2.32,2.28],[2.43,2.17],[2.42,2.1],[2.33,2.06],[2.41,2.04],[2.5,2.06],[2.52,3.09],[2.55,3.14],[2.47,3.51],[2.57,3.51],[2.58,3.32],[.78,1.77],[.78,1.68],[.84,1.61],[1.03,1.61],[1.03,1.46],[1.07,1.47],[1.11,1.42],[1.11,1.7],[1.17,1.7],[1.17,1.81],[1.22,1.73],[1.22,1.88],[1.25,1.79],[1.19,2.15],[1.19,2.03],[1.19,1.98],[1.26,2.04],[1.35,2.01],[1.44,2.03],[1.44,1.99],[1.52,2.03],[1.59,1.93],[1.41,1.79],[1.46,1.7],[1.51,1.73],[1.46,1.61],[1.52,1.79],[1.52,1.61],[1.56,1.64],[1.59,1.56],[1.52,1.52],[1.35,1.53],[1.39,1.41],[1.35,1.34],[1.49,1.36],[1.52,1.35],[1.56,1.38],[1.6,1.39],[1.6,1.3],[1.55,1.34],[1.68,1.7],[1.7,1.88],[1.73,1.9],[1.77,1.72],[1.79,1.84],[1.79,1.96],[1.79,2.03],[1.86,1.9],[1.86,1.76],[1.86,1.64],[1.86,1.5],[1.93,1.85],[1.93,1.75],[1.9,1.55],[1.93,1.56],[1.98,1.65],[2.0,1.82],[2.03,1.77],[2.05,1.72],[2.07,1.7],[2.09,1.78],[2.1,1.78],[2.15,1.72],[2.2,1.8],[2.23,1.84],[2.02,1.42],[1.98,1.31],[2.04,1.31],[2.12,1.68],[2.27,1.52],[2.37,1.52],[2.39,1.82],[2.4,1.83],[2.28,1.38],[2.2,1.36],[1.74,1.5],[1.8,1.53],[1.71,1.34],[1.86,1.33],[1.89,1.26],[1.89,1.18],[1.99,1.23],[1.98,1.14],[2.21,1.21],[2.45,1.19],[2.57,1.97],[.69,1.49],[.69,1.34],[.77,1.49],[.77,1.4],[.9,1.36],[.9,1.31],[1.0,1.19],[1.19,1.2],[1.31,1.26],[1.35,1.18],[1.41,1.2],[1.42,1.15]];

const panelLetters = ['(a)','(b)','(c)','(d)','(e)','(f)'];
const panelTitles = ['Scatter plot, birch pollen, 2006, COR run, map 1','Scatter plot, birch pollen, 2006, COR run, map 2','Scatter plot, birch pollen, 2006, COR run, map 3','Scatter plot, birch pollen, 2006,  SCF run, map 1','Scatter plot, birch pollen, 2006,  SCF run, map 2','Scatter plot, birch pollen, 2006,  SCF run, map 3'];
const r2Values = ['0.22','0.34','0.18','0.51','0.52','0.47'];
const tickExps = [0,1,2,3,4];

const NS='http://www.w3.org/2000/svg';
const svg=document.getElementById('fig');
function mk(tag,attrs,parent){const e=document.createElementNS(NS,tag);for(const k in attrs)e.setAttribute(k,attrs[k]);(parent||svg).appendChild(e);return e;}
const fromLog=arr=>arr.map(p=>[Math.pow(10,p[0]),Math.pow(10,p[1])]);
const panelData=[ptsA,fromLog(ptsB),fromLog(ptsC),fromLog(ptsD),fromLog(ptsE),ptsF.concat(fromLog(ptsFcore))];
const lefts=[85,787,1488], tops=[89,614], W=544, H=419;
const letterX=[14,714,1399];

for(let p=0;p<6;p++){
  const col=p%3,row=Math.floor(p/3);
  const L=lefts[col],T=tops[row];
  const xScale=v=>L+Math.log10(v)/4*W;
  const yScale=v=>T+H-Math.log10(v)/4*H;
  const g=mk('g',{});
  
  

  const lt=mk('text',{x:letterX[col],y:60+row*525,'font-size':44,fill:'#000'},g);
  lt.textContent=panelLetters[p];
  
  

  const tt=mk('text',{x:L+W/2,y:72+row*525,'font-size':20.5,'text-anchor':'middle',fill:'#000'},g);
  tt.textContent=panelTitles[p];
  
  

  const cid='clip'+p;
  const cp=mk('clipPath',{id:cid},g);
  mk('rect',{x:L,y:T,width:W,height:H},cp);
  const plot=mk('g',{'clip-path':'url(#'+cid+')'},g);

  panelData[p].forEach(pt=>{
    const c=mk('circle',{cx:xScale(pt[0]).toFixed(1),cy:yScale(pt[1]).toFixed(1),r:3.4,fill:'#0000ff',stroke:'#000','stroke-width':0.9},plot);
    
    
  });
  const ln=mk('line',{x1:xScale(1),y1:yScale(1),x2:xScale(1e4),y2:yScale(1e4),stroke:'#ff0000','stroke-width':2.2},plot);
  
  

  const fr=mk('rect',{x:L,y:T,width:W,height:H,fill:'none',stroke:'#000','stroke-width':1.4},g);
  
  

  const tk=mk('g',{stroke:'#000','stroke-width':1},g);
  for(let d=0;d<4;d++){for(let m=1;m<10;m++){
    const v=Math.pow(10,d)*m; if(m===1&&d===0)continue;
    const len=m===1?8:4;
    const x=xScale(v),y=yScale(v);
    mk('line',{x1:x,y1:T+H,x2:x,y2:T+H-len},tk);
    mk('line',{x1:x,y1:T,x2:x,y2:T+len},tk);
    mk('line',{x1:L,y1:y,x2:L+len,y2:y},tk);
    mk('line',{x1:L+W,y1:y,x2:L+W-len,y2:y},tk);
  }}
  tickExps.forEach(e=>{
    const v=Math.pow(10,e);
    const xl=mk('text',{x:xScale(v),y:T+H+23,'font-size':22,'text-anchor':'middle',fill:'#000'},g);
    xl.innerHTML='10<tspan dy="-10" font-size="15">'+e+'</tspan>';
    
    
    const yl=mk('text',{x:L-1,y:yScale(v)+8,'font-size':22,'text-anchor':'end',fill:'#000'},g);
    yl.innerHTML='10<tspan dy="-10" font-size="15">'+e+'</tspan>';
    
    
  });
  const xt=mk('text',{x:L+W/2,y:T+H+50,'font-size':21.5,'text-anchor':'middle',fill:'#000'},g);
  xt.textContent='Observations';
  
  
  const cx=L-52, cy=T+H/2;
  const yt=mk('text',{x:cx,y:cy,'font-size':21.5,'text-anchor':'middle',fill:'#000',transform:'rotate(-90 '+cx+' '+cy+')'},g);
  yt.textContent='Model';
  
  

  const r2=mk('text',{x:L+44,y:T+31,'font-size':22,'font-weight':'bold',fill:'#ff0000'},g);
  r2.innerHTML='R<tspan dy="-9" font-size="14">2</tspan><tspan dy="9"> =</tspan>';
  
  
  const r2v=mk('text',{x:L+121,y:T+31,'font-size':22,'font-weight':'bold',fill:'#ff0000'},g);
  r2v.textContent=r2Values[p];
  
  
}
</script>
</body></html>
